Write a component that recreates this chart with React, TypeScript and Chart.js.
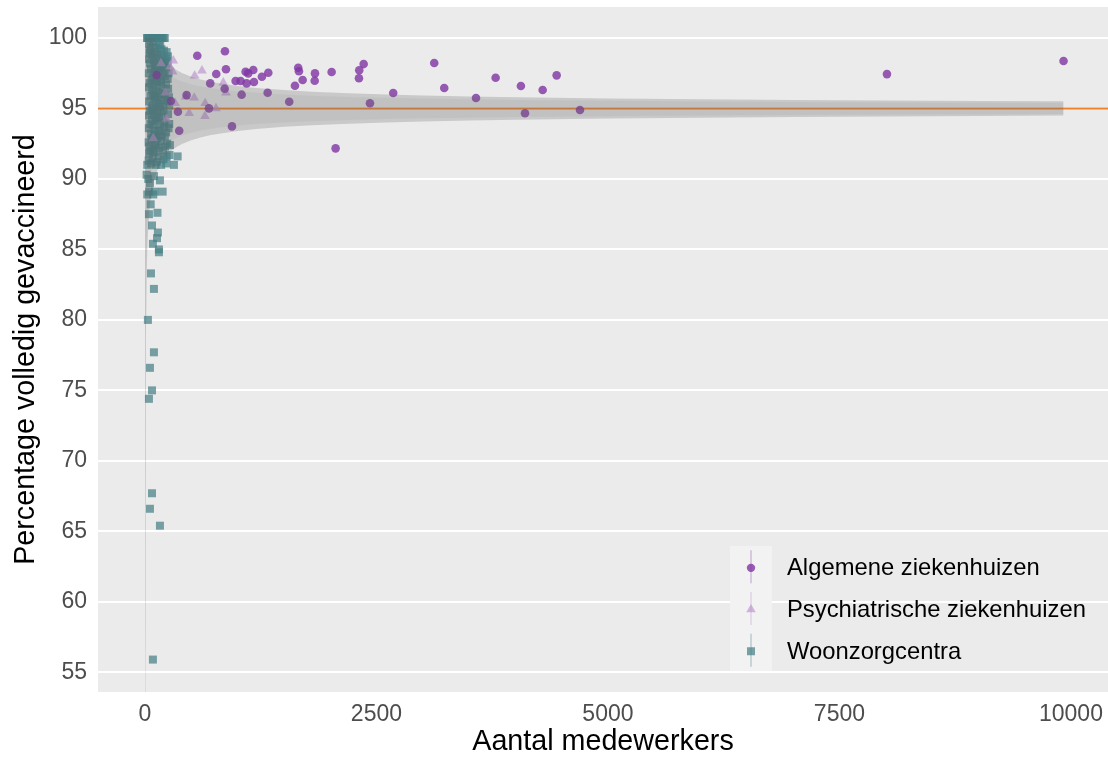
import { useEffect, useRef } from "react";
import { Chart, registerables } from "chart.js";

Chart.register(...registerables);

const FONT = '"Liberation Sans", Arial, Helvetica, sans-serif';

const groupLabels = ["Algemene ziekenhuizen", "Psychiatrische ziekenhuizen", "Woonzorgcentra"];
const xTickValues = [0, 2500, 5000, 7500, 10000];
const yTickValues = [55, 60, 65, 70, 75, 80, 85, 90, 95, 100];

// [aantal medewerkers, % volledig gevaccineerd]
const algemeneZiekenhuizen: [number, number][] = [
  [126, 97.37], [281, 95.53], [356, 94.77], [370, 93.42], [450, 95.95], [565, 98.74],
  [691, 95.01], [705, 96.78], [770, 97.45], [861, 96.4], [864, 99.06], [875, 97.78],
  [940, 93.73], [979, 96.95], [1033, 96.95], [1044, 95.98], [1087, 97.61], [1098, 96.78],
  [1115, 97.49], [1170, 97.73], [1177, 96.88], [1263, 97.25], [1325, 96.12], [1332, 97.54],
  [1558, 95.48], [1620, 96.61], [1655, 97.89], [1663, 97.64], [1703, 97.02], [1833, 96.97],
  [1836, 97.49], [2016, 97.59], [2059, 92.17], [2311, 97.14], [2314, 97.71], [2362, 98.15],
  [2430, 95.37], [2681, 96.1], [3124, 98.23], [3232, 96.45], [3575, 95.74], [3787, 97.18],
  [4060, 96.59], [4104, 94.66], [4295, 96.31], [4446, 97.35], [4698, 94.89], [8013, 97.44],
  [9920, 98.37],
];

const psychiatrischeZiekenhuizen: [number, number][] = [
  [90, 92.88], [173, 98.2], [222, 96.12], [233, 94.27], [270, 97.96], [299, 97.61],
  [306, 98.39], [327, 95.37], [440, 95.83], [478, 94.66], [532, 95.76], [537, 97.32],
  [616, 97.68], [648, 94.46], [650, 95.37], [767, 95.01], [846, 96.83], [875, 96.12],
];

const woonzorgcentra: [number, number][] = [
  [22, 100], [30, 100], [40, 100], [48, 100], [58, 100], [68, 100], [80, 100], [92, 100],
  [105, 100], [118, 100], [132, 100], [148, 100], [165, 100], [182, 100], [200, 100], [214, 100],
  [45, 99.6], [62, 99.4], [88, 99.7], [120, 99.3], [150, 99.5], [178, 99.2], [205, 99.1],
  [234, 99.0], [248, 98.7], [50, 99.1], [100, 99.0], [135, 98.9], [165, 99.6], [195, 98.6], [225, 98.5],
  [45, 98.5], [55, 98.2], [75, 98.8], [95, 98.4], [110, 98.1], [128, 98.6], [145, 98.3],
  [160, 98.0], [185, 98.2], [210, 98.3], [240, 98.4], [52, 98.9], [170, 98.8], [230, 97.9], [245, 98.2],
  [42, 97.5], [65, 97.8], [85, 97.2], [105, 97.6], [125, 97.1], [140, 97.7], [158, 97.4],
  [175, 97.0], [192, 97.6], [215, 97.3], [245, 97.1], [70, 97.0], [115, 97.9], [200, 97.9], [255, 97.5],
  [44, 96.5], [50, 96.8], [78, 96.3], [98, 96.7], [118, 96.2], [138, 96.6], [155, 96.1],
  [172, 96.9], [190, 96.4], [208, 96.0], [228, 96.7], [259, 95.8], [90, 96.0], [130, 96.9], [250, 96.4],
  [45, 95.5], [60, 95.9], [82, 95.2], [102, 95.7], [122, 95.4], [142, 95.8], [162, 95.1],
  [180, 95.6], [198, 95.3], [220, 95.9], [262, 95.2], [72, 95.0], [112, 95.9], [150, 95.3], [240, 95.5],
  [44, 94.5], [55, 94.8], [76, 94.2], [96, 94.6], [116, 94.1], [136, 94.7], [152, 94.3],
  [170, 94.9], [188, 94.4], [212, 94.0], [262, 93.9], [250, 94.6], [88, 94.9], [128, 94.4], [200, 94.8],
  [42, 93.6], [66, 93.2], [86, 93.8], [108, 93.4], [126, 93.0], [146, 93.5], [164, 93.9],
  [182, 93.1], [205, 93.7], [229, 93.3], [255, 93.6], [58, 93.9], [100, 93.1], [160, 93.4], [215, 93.0],
  [40, 92.6], [48, 92.3], [70, 92.8], [90, 92.1], [110, 92.5], [132, 92.9], [150, 92.2],
  [172, 92.7], [216, 92.3], [240, 92.5], [83, 92.9], [195, 92.0], [270, 92.4], [60, 92.0], [125, 92.4],
  [40, 91.3], [45, 91.8], [65, 91.1], [85, 91.5], [105, 91.9], [128, 91.2], [148, 91.6],
  [175, 91.0], [234, 91.6], [353, 91.6], [230, 91.1], [313, 91.0], [200, 91.4], [265, 91.7], [115, 91.0],
  [25, 91.0], [18, 90.3], [36, 90.0], [97, 90.2], [162, 89.9], [54, 89.7], [46, 89.1], [108, 89.1],
  [191, 89.1], [25, 88.9], [90, 88.9], [62, 88.2], [43, 87.5], [135, 87.6], [76, 86.7], [140, 86.2],
  [130, 85.8], [86, 85.4], [151, 85.0], [151, 84.8], [65, 83.3], [97, 82.2], [32, 80.0], [97, 77.7],
  [54, 76.6], [76, 75.0], [43, 74.4], [76, 67.7], [54, 66.6], [162, 65.4], [86, 55.9],
];

// Funnel: target line with binomial control limits around it (capped at 100 %)
const targetPct = 95;
const funnelP = 0.96;
const zInner = 1.96;
const zOuter = 2.576;
const funnelN = [
  1, 2, 3, 4, 5, 6, 7, 8, 10, 12, 14, 17, 20, 25, 30, 35, 40, 50, 60, 70, 80, 100, 120, 150,
  180, 220, 260, 300, 350, 400, 500, 600, 700, 800, 1000, 1200, 1500, 1800, 2200, 2600, 3000,
  3500, 4000, 5000, 6000, 7000, 8000, 9000, 9920,
];

const colors = {
  algemene: "rgba(128,52,164,0.8)",
  psych: "rgba(186,146,206,0.65)",
  wzc: "rgba(70,128,133,0.72)",
  target: "#F0822C",
  outerBand: "rgba(100,100,100,0.25)",
  innerBand: "rgba(100,100,100,0.07)",
  panel: "#EBEBEB",
  keyBg: "#F2F2F2",
};
const legendLines = ["rgba(128,52,164,0.22)", "rgba(186,146,206,0.25)", "rgba(70,128,133,0.25)"];

const toXY = (pts: [number, number][]) => pts.map(([x, y]) => ({ x, y }));
const bandEdge = (z: number, sign: number) =>
  funnelN.map((n) => ({
    x: n,
    y: Math.min(100, targetPct + sign * z * Math.sqrt((funnelP * (1 - funnelP)) / n) * 100),
  }));

const panelBackground = {
  id: "panelBackground",
  beforeDraw(chart: any) {
    const { ctx, chartArea: a } = chart;
    ctx.save();
    ctx.fillStyle = colors.panel;
    ctx.fillRect(a.left, a.top, a.right - a.left, a.bottom - a.top);
    ctx.restore();
  },
};

const insideLegend = {
  id: "insideLegend",
  afterDraw(chart: any) {
    const { ctx, chartArea: a } = chart;
    const keyW = 42;
    const keyH = 41.7;
    const x0 = a.right - 378;
    const y0 = a.bottom - 146;
    ctx.save();
    ctx.fillStyle = colors.keyBg;
    ctx.fillRect(x0, y0, keyW, keyH * 3);
    const fills = [colors.algemene, colors.psych, colors.wzc];
    groupLabels.forEach((label, i) => {
      const cx = x0 + keyW / 2;
      const cy = y0 + keyH * (i + 0.5);
      ctx.strokeStyle = legendLines[i];
      ctx.lineWidth = 2;
      ctx.beginPath();
      ctx.moveTo(cx, cy - 16.5);
      ctx.lineTo(cx, cy + 16.5);
      ctx.stroke();
      ctx.fillStyle = fills[i];
      ctx.beginPath();
      if (i === 0) {
        ctx.arc(cx, cy + 1, 4.2, 0, Math.PI * 2);
      } else if (i === 1) {
        const r = 5.5;
        ctx.moveTo(cx, cy + 1 - r);
        ctx.lineTo(cx + r * Math.sin(Math.PI / 3), cy + 1 + r / 2);
        ctx.lineTo(cx - r * Math.sin(Math.PI / 3), cy + 1 + r / 2);
        ctx.closePath();
      } else {
        ctx.rect(cx - 4, cy - 3, 8, 8);
      }
      ctx.fill();
      ctx.fillStyle = "#000000";
      ctx.font = `23.8px ${FONT}`;
      ctx.textAlign = "left";
      ctx.textBaseline = "middle";
      ctx.fillText(label, x0 + 57, cy + 2);
    });
    ctx.restore();
  },
};

export default function App() {
  const ref = useRef<HTMLCanvasElement>(null);

  useEffect(() => {
    document.body.style.margin = "0";
    const canvas = ref.current;
    if (!canvas) return;

    const bandLine = (data: { x: number; y: number }[], fill: any, bg: string) => ({
      type: "line" as const,
      data,
      fill,
      backgroundColor: bg,
      borderColor: "transparent",
      borderWidth: 0,
      pointRadius: 0,
      tension: 0,
    });

    const chart = new Chart(canvas, {
      type: "scatter",
      data: {
        datasets: [
          bandLine(bandEdge(zInner, 1), "+1", colors.innerBand),
          bandLine(bandEdge(zInner, -1), false, "transparent"),
          bandLine(bandEdge(zOuter, 1), "+1", colors.outerBand),
          bandLine(bandEdge(zOuter, -1), false, "transparent"),
          {
            label: groupLabels[0],
            data: toXY(algemeneZiekenhuizen),
            pointStyle: "circle",
            pointRadius: 4.3,
            backgroundColor: colors.algemene,
            borderWidth: 0,
          },
          {
            label: groupLabels[1],
            data: toXY(psychiatrischeZiekenhuizen),
            pointStyle: "triangle",
            pointRadius: 5.6,
            backgroundColor: colors.psych,
            borderWidth: 0,
          },
          {
            label: groupLabels[2],
            data: toXY(woonzorgcentra),
            pointStyle: "rect",
            pointRadius: 5.66,
            backgroundColor: colors.wzc,
            borderWidth: 0,
          },
          {
            type: "line" as const,
            data: [
              { x: -507, y: targetPct },
              { x: 10400, y: targetPct },
            ],
            borderColor: colors.target,
            borderWidth: 2,
            pointRadius: 0,
            fill: false,
          },
        ] as any,
      },
      options: {
        animation: false,
        responsive: false,
        devicePixelRatio: 1,
        events: [],
        layout: { autoPadding: false, padding: { top: 7, right: 0, bottom: 0, left: 0 } },
        plugins: { legend: { display: false }, tooltip: { enabled: false } },
        scales: {
          x: {
            type: "linear",
            position: "bottom",
            min: -507,
            max: 10400,
            grid: { display: false },
            border: { display: false },
            afterBuildTicks: (s: any) => {
              s.ticks = xTickValues.map((value) => ({ value }));
            },
            afterFit: (s: any) => {
              s.height = 65;
              s.paddingLeft = 0;
              s.paddingRight = 0;
            },
            ticks: {
              autoSkip: false,
              maxRotation: 0,
              padding: 1,
              color: "#4D4D4D",
              font: { family: FONT, size: 23 },
              callback: (v: any) => String(v),
            },
            title: {
              display: true,
              text: "Aantal medewerkers",
              color: "#000000",
              font: { family: FONT, size: 28.7 },
              padding: { top: 0, bottom: -2 },
            },
          },
          y: {
            type: "linear",
            min: 53.6,
            max: 102.2,
            grid: { color: "#FFFFFF", lineWidth: 2, drawTicks: false },
            border: { display: false },
            afterBuildTicks: (s: any) => {
              s.ticks = yTickValues.map((value) => ({ value }));
            },
            afterFit: (s: any) => {
              s.width = 98;
              s.paddingTop = 0;
              s.paddingBottom = 0;
            },
            ticks: {
              padding: 11,
              color: "#4D4D4D",
              font: { family: FONT, size: 23 },
              callback: (v: any) => String(v),
            },
            title: {
              display: true,
              text: "Percentage volledig gevaccineerd",
              color: "#000000",
              font: { family: FONT, size: 28.7 },
              padding: { top: 9, bottom: 0 },
            },
          },
        },
      },
      plugins: [panelBackground, insideLegend],
    });

    return () => chart.destroy();
  }, []);

  return <canvas ref={ref} width={1108} height={757} style={{ display: "block" }} />;
}
